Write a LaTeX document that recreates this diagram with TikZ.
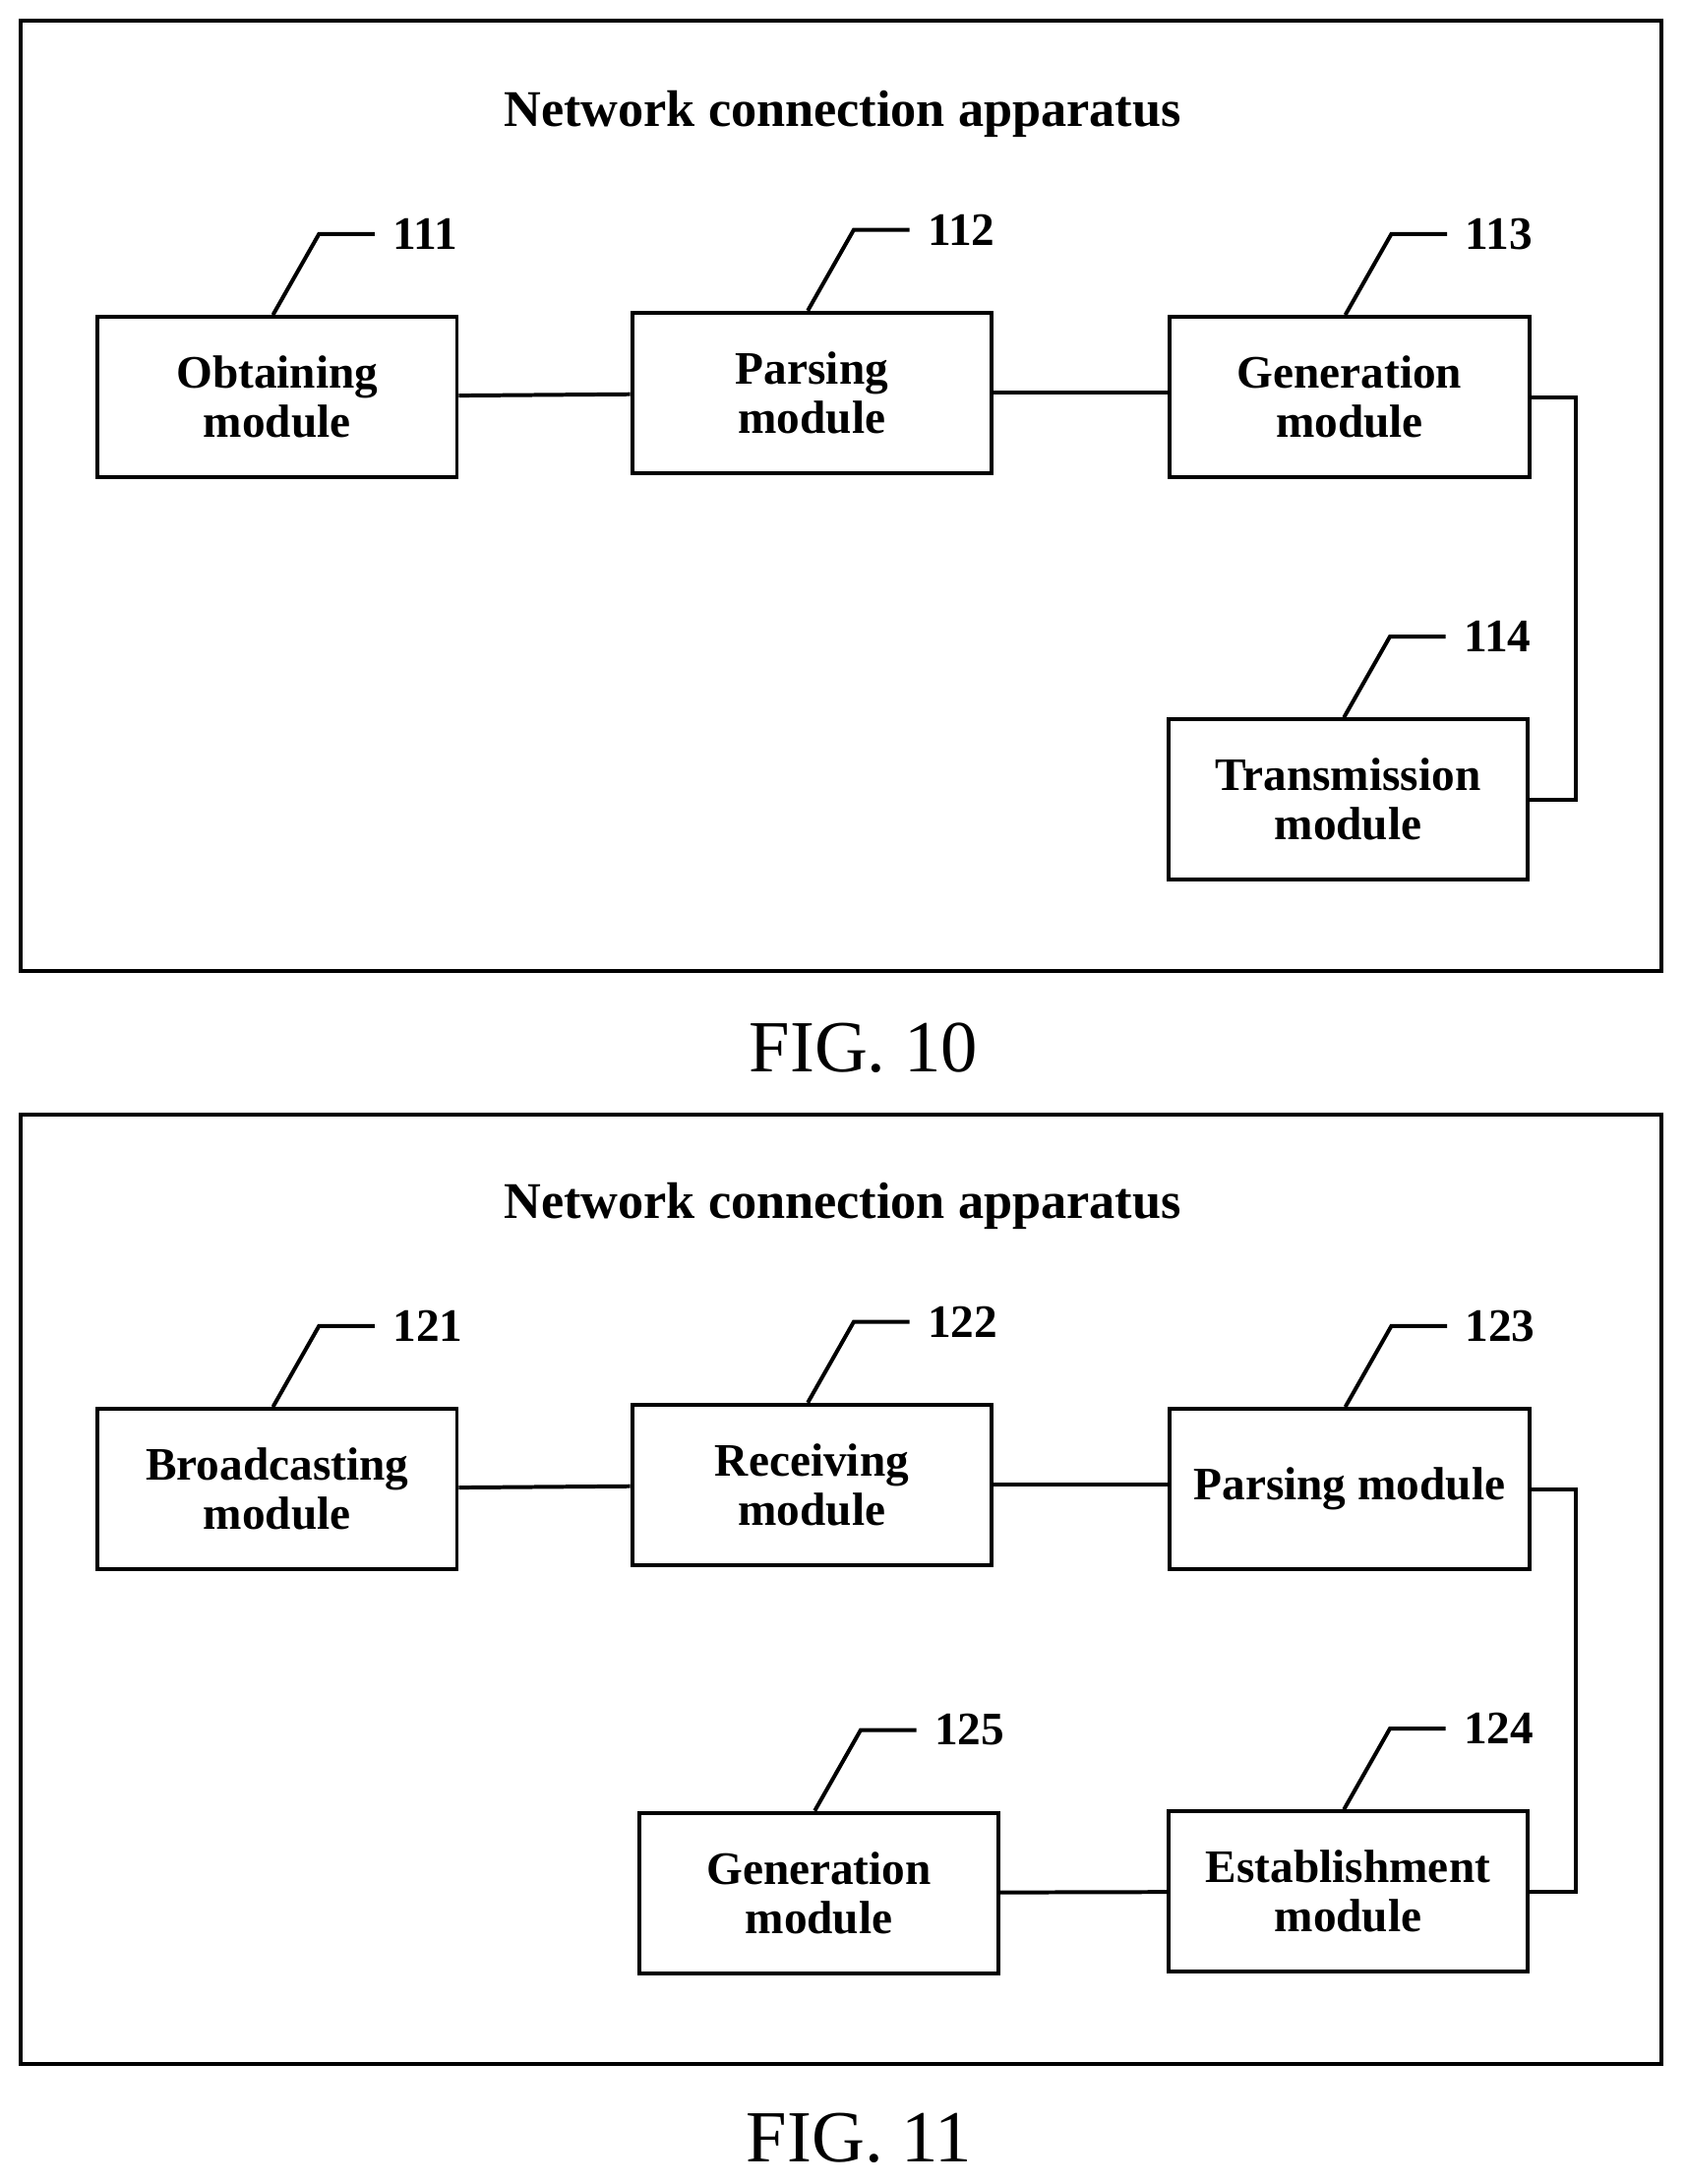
\documentclass[tikz,border=0pt]{standalone}
\usepackage{fontspec}
\setmainfont{Liberation Serif}
\begin{document}
\begin{tikzpicture}[x=0.01cm,y=-0.01cm,
    module/.style={draw,line width=0.8pt,minimum width=2.58cm,minimum height=1.15cm,align=center,font=\bfseries\fontsize{9.5}{10}\selectfont},
    frame/.style={draw,line width=0.8pt},
    link/.style={line width=0.8pt},
    num/.style={font=\bfseries\fontsize{9.5}{10}\selectfont,anchor=west}]
\useasboundingbox (0,0) rectangle (1210,1568);
\newcommand{\callout}[2]{%
  \draw[link] ([xshift=-0.03cm]#1.north) -- ++(33,-58) -- ++(40,0) node[num] {#2};}

% FIG. 10
\draw[frame] (15,15) rectangle (1193,697);
\node[font=\bfseries\fontsize{10.5}{11}\selectfont] (title10) at (605,82) {Network connection apparatus};
\node[module] (obtain) at (199,285) {Obtaining\\module};
\node[module] (parse) at (583,282) {Parsing\\module};
\node[module] (gen) at (969,285) {Generation\\module};
\node[module] (trans) at (968,574) {Transmission\\module};
\draw[link] (obtain) -- (parse);
\draw[link] (parse) -- (gen.west |- parse);
\draw[link] (gen.east) -- ++(32,0) |- (trans.east);
\callout{obtain}{111}
\callout{parse}{112}
\callout{gen}{113}
\callout{trans}{114}
\node[font=\fontsize{15}{16}\selectfont] (fig10) at (620,752) {FIG. 10};

% FIG. 11
\draw[frame] (15,800) rectangle (1193,1482);
\node[font=\bfseries\fontsize{10.5}{11}\selectfont] (title11) at (605,866) {Network connection apparatus};
\node[module] (bcast) at (199,1069) {Broadcasting\\module};
\node[module] (recv) at (583,1066) {Receiving\\module};
\node[module] (parse2) at (969,1069) {Parsing module};
\node[module] (estab) at (968,1358) {Establishment\\module};
\node[module] (gen2) at (588,1359) {Generation\\module};
\draw[link] (bcast) -- (recv);
\draw[link] (recv) -- (parse2.west |- recv);
\draw[link] (parse2.east) -- ++(32,0) |- (estab.east);
\draw[link] (gen2) -- (estab);
\callout{bcast}{121}
\callout{recv}{122}
\callout{parse2}{123}
\callout{estab}{124}
\callout{gen2}{125}
\node[font=\fontsize{15}{16}\selectfont] (fig11) at (617,1535) {FIG. 11};
\end{tikzpicture}
\end{document}
